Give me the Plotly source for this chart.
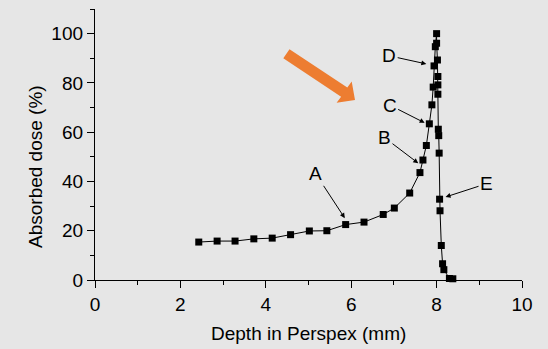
import plotly.graph_objects as go

# Depth-dose profile in Perspex
depth_mm = [2.43, 2.86, 3.28, 3.72, 4.15, 4.58, 5.02, 5.43, 5.87, 6.30,
            6.75, 7.01, 7.37, 7.61, 7.68, 7.76, 7.83, 7.89, 7.92, 7.94,
            7.97, 8.00, 8.00, 8.02, 8.03, 8.03, 8.03, 8.04, 8.05, 8.06,
            8.07, 8.08, 8.11, 8.14, 8.17, 8.30, 8.38]
dose_pct = [15.4, 15.8, 15.8, 16.7, 17.0, 18.4, 19.9, 20.0, 22.5, 23.5,
            26.6, 29.2, 35.3, 43.6, 48.7, 54.6, 63.4, 71.1, 78.3, 86.9,
            94.7, 100.0, 96.1, 89.3, 82.6, 79.2, 75.4, 61.2, 58.6, 51.5,
            32.8, 28.1, 14.0, 6.6, 4.2, 0.6, 0.5]

# Labelled points: (label, arrow tip x, tip y, label x, label y)
labels = ["A", "B", "C", "D", "E"]
label_tip_x = [5.85, 7.57, 7.72, 7.76, 8.21]
label_tip_y = [25.1, 47.4, 63.8, 87.7, 33.7]
label_text_x = [5.17, 6.78, 6.90, 6.89, 9.17]
label_text_y = [43.1, 57.8, 71.0, 91.0, 39.1]

x_ticks = [0, 2, 4, 6, 8, 10]
y_ticks = [0, 20, 40, 60, 80, 100]
x_title = "Depth in Perspex (mm)"
y_title = "Absorbed dose (%)"

W, H = 548, 349
ML, MR, MT, MB = 95, 26, 9, 69
X_RANGE = [0, 10]
Y_RANGE = [0, 110]
BG = "#e6e6e6"
FONT = "Arial, Liberation Sans, sans-serif"
PLOT_W = W - ML - MR
PLOT_H = H - MT - MB

fig = go.Figure()
fig.add_trace(go.Scatter(
    x=depth_mm, y=dose_pct, mode="lines+markers",
    line=dict(color="black", width=1),
    marker=dict(symbol="square", size=7, color="black"),
    showlegend=False, cliponaxis=False,
))

for t, tx, ty, lx, ly in zip(labels, label_tip_x, label_tip_y, label_text_x, label_text_y):
    fig.add_annotation(
        x=tx, y=ty, ax=lx, ay=ly, xref="x", yref="y", axref="x", ayref="y",
        text=t, showarrow=True, arrowhead=2, arrowsize=1, arrowwidth=1,
        arrowcolor="black", font=dict(size=19, color="black", family=FONT),
        borderpad=1,
    )

# Orange pointer arrow, built in screen pixels then mapped to data units
px_x = PLOT_W / (X_RANGE[1] - X_RANGE[0])
px_y = PLOT_H / (Y_RANGE[1] - Y_RANGE[0])
arrow_px = [(283.3, 58.3), (289.5, 49.3), (347.3, 87.6), (351.7, 81.6),
            (355.0, 100.0), (336.6, 102.8), (341.1, 96.8)]
def to_data(p):
    return (X_RANGE[0] + (p[0] - ML) / px_x, Y_RANGE[1] - (p[1] - MT) / px_y)
pts = [to_data(p) for p in arrow_px]
path = "M " + " L ".join(f"{a:.4f},{b:.4f}" for a, b in pts) + " Z"
fig.add_shape(type="path", path=path, xref="x", yref="y",
              fillcolor="#ED7D31", line=dict(width=0))

# Axis titles placed as paper annotations
fig.add_annotation(
    text=x_title, xref="paper", yref="paper",
    x=0.5, y=(H - MB - 333) / PLOT_H, xanchor="center", yanchor="middle",
    showarrow=False, font=dict(size=19, color="black", family=FONT),
)
fig.add_annotation(
    text=y_title, xref="paper", yref="paper", textangle=-90,
    x=(35 - ML) / PLOT_W, y=(H - MB - 167) / PLOT_H, xanchor="center", yanchor="middle",
    showarrow=False, font=dict(size=19, color="black", family=FONT),
)

axis_common = dict(
    showline=True, linecolor="black", linewidth=1.3, mirror=False,
    ticks="outside", ticklen=7, tickwidth=1.3, tickcolor="black",
    showgrid=False, zeroline=False,
    tickfont=dict(size=19, color="black", family=FONT),
)
fig.update_xaxes(
    range=X_RANGE, tickvals=x_ticks, ticktext=[str(v) for v in x_ticks],
    minor=dict(ticks="outside", ticklen=4, tickwidth=1.3, tickcolor="black", dtick=1, tick0=0),
    **axis_common,
)
fig.update_yaxes(
    range=Y_RANGE, tickvals=y_ticks, ticktext=[str(v) for v in y_ticks],
    minor=dict(ticks="outside", ticklen=4, tickwidth=1.3, tickcolor="black", dtick=10, tick0=0),
    **axis_common,
)
fig.update_layout(
    width=W, height=H, autosize=False,
    margin=dict(l=ML, r=MR, t=MT, b=MB, pad=0),
    paper_bgcolor=BG, plot_bgcolor=BG,
    font=dict(family=FONT, color="black"),
)
fig.write_html("out.html")
